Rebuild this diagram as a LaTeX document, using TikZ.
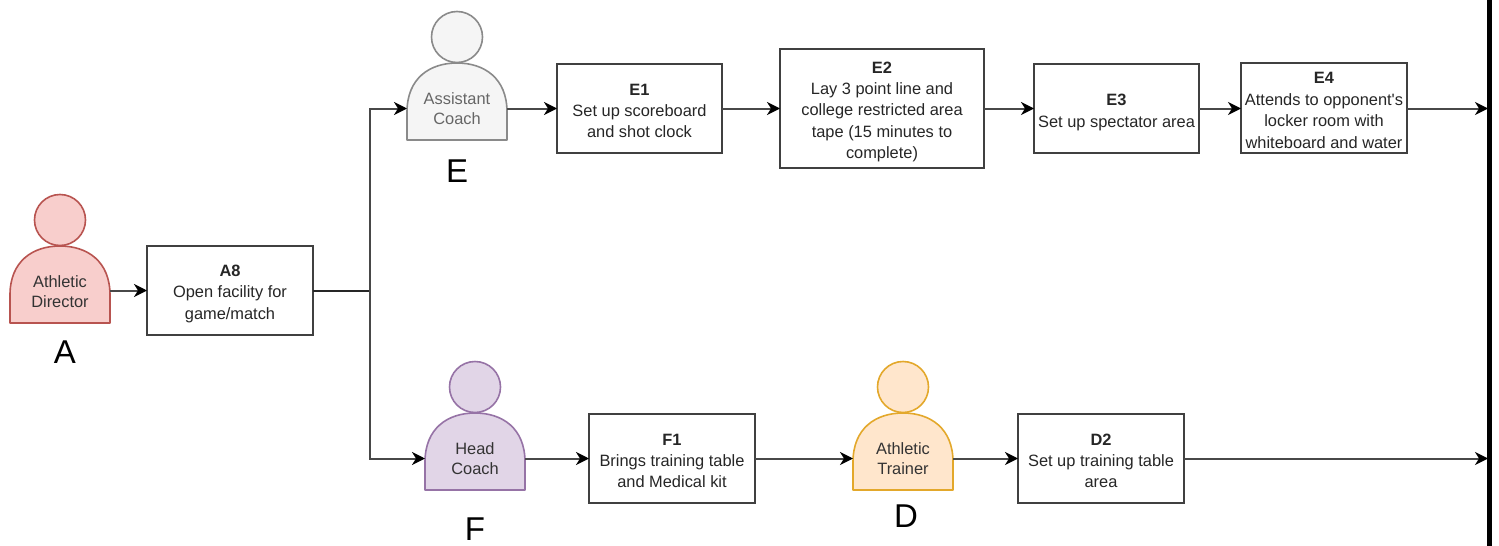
\documentclass[tikz,border=0pt]{standalone}
\usepackage{fontspec}
\setmainfont{Liberation Sans}
\newfontfamily\straightquote{Liberation Sans}
\usetikzlibrary{arrows.meta,calc}
\definecolor{redfill}{HTML}{F8CECC}\definecolor{redline}{HTML}{B85450}
\definecolor{greyfill}{HTML}{F5F5F5}\definecolor{greyline}{HTML}{8A8A8A}
\definecolor{purplefill}{HTML}{E1D5E7}\definecolor{purpleline}{HTML}{9673A6}
\definecolor{orangefill}{HTML}{FFE6CC}\definecolor{orangeline}{HTML}{E3A82B}
\definecolor{linecol}{HTML}{484848}
\tikzset{
  x=0.5pt,y=-0.5pt,
  boxnode/.style={draw=black!75,line width=0.8pt,fill=white,align=center,inner sep=0pt,outer sep=0pt,font=\fontsize{8.2}{10.7}\selectfont,text=black!85},
  boxtext/.style={align=center,inner sep=0pt,outer sep=0pt,font=\fontsize{8.2}{10.7}\selectfont,text=black!85},
  actornode/.style={minimum width=50pt,minimum height=38.5pt,inner sep=0pt,outer sep=0pt,align=center,font=\fontsize{8.2}{10.2}\selectfont},
  bigletter/.style={font=\fontsize{16.5}{18}\selectfont,inner sep=0pt},
  link/.style={draw=linecol,line width=1pt,-{Stealth[length=6.5pt,width=6.5pt,inset=2pt,color=black]}},
  plainlink/.style={draw=black!85,line width=1pt},
}
\newcommand{\hd}[2][9pt]{\rule{0pt}{#1}\textbf{#2}}
% #1 name, #2 body-centre x, #3 body-top y, #4 fill, #5 line, #6 text colour, #7 label
\newcommand{\actorfig}[7]{%
  \draw[#5,fill=#4,line width=0.8pt] (#2,#3-26) circle[radius=12.75pt];
  \draw[#5,fill=#4,line width=0.8pt,line join=round]
    (#2-50,#3+77) -- (#2-50,#3+49)
    .. controls (#2-50,#3+15) and (#2-27,#3) .. (#2,#3)
    .. controls (#2+27,#3) and (#2+50,#3+15) .. (#2+50,#3+49)
    -- (#2+50,#3+77) -- cycle;
  \node[actornode,text=#6] (#1) at (#2,#3+45.5) {\shortstack{#7}};
}
\begin{document}
\begin{tikzpicture}
\useasboundingbox (0,0) rectangle (1499,546);
\actorfig{actA}{60}{246}{redfill}{redline}{black!80}{Athletic\\[1pt]Director}
\actorfig{actE}{457}{63}{greyfill}{greyline}{black!60}{Assistant\\[1pt]Coach}
\actorfig{actF}{475}{413}{purplefill}{purpleline}{black!80}{Head\\[1pt]Coach}
\actorfig{actD}{903}{413}{orangefill}{orangeline}{black!80}{Athletic\\[1pt]Trainer}

\node[bigletter] (lA) at (65,352) {A};
\node[bigletter] (lE) at (457,171) {E};
\node[bigletter] (lF) at (475,529) {F};
\node[bigletter] (lD) at (906,516) {D};

\node[boxnode,minimum width=83pt,minimum height=44.5pt] (a8) at (230,290.5) {\hd{A8}\\Open facility for\\game/match};
\node[boxnode,minimum width=82.5pt,minimum height=44.5pt] (e1) at (639.5,108.5) {\hd[8pt]{E1}\\Set up scoreboard\\and shot clock};
\node[boxnode,minimum width=102pt,minimum height=59.5pt] (e2) at (882,108.5) {\hd{E2}\\Lay 3 point line and\\college restricted area\\tape (15 minutes to\\complete)};
\node[boxnode,minimum width=82.5pt,minimum height=44.5pt] (e3) at (1116.5,108.5) {\hd[9.5pt]{E3}\\Set up spectator area};
\node[boxnode,minimum width=83pt,minimum height=45pt] (e4) at (1324,108) {};
\node[boxtext] (e4text) at (1324,110.5) {\textbf{E4}\\Attends to opponent{\straightquote '}s\\locker room with\\whiteboard and water};
\node[boxnode,minimum width=83pt,minimum height=44.5pt] (f1) at (672,458.5) {\hd[8pt]{F1}\\Brings training table\\and Medical kit};
\node[boxnode,minimum width=83pt,minimum height=44.5pt] (d2) at (1101,458.5) {\hd[8pt]{D2}\\Set up training table\\area};

\coordinate (split) at (370,290.5);
\coordinate (barTop) at (1489.5,0);
\coordinate (barBot) at (1489.5,546);
\coordinate (barStop) at (1488,0);

\draw[link] (actA.east |- a8.west) -- (a8.west);
\draw[plainlink] (a8.east) -- (split);
\draw[link] (split) |- (actE.west |- e1.west);
\draw[link] (split) |- (actF.west |- f1.west);
\draw[link] (actE.east |- e1.west) -- (e1.west);
\draw[link] (e1) -- (e2);
\draw[link] (e2) -- (e3);
\draw[link] (e3.east) -- (e3.east -| e4.west);
\draw[link] (e4.east |- e3.east) -- (e3.east -| barStop);
\draw[link] (actF.east |- f1.west) -- (f1.west);
\draw[link] (f1.east) -- (actD.west |- f1.west);
\draw[link] (actD.east |- d2.west) -- (d2.west);
\draw[link] (d2.east) -- (d2.east -| barStop);
\draw[black,line width=2.5pt] (barTop) -- (barBot);
\end{tikzpicture}
\end{document}
